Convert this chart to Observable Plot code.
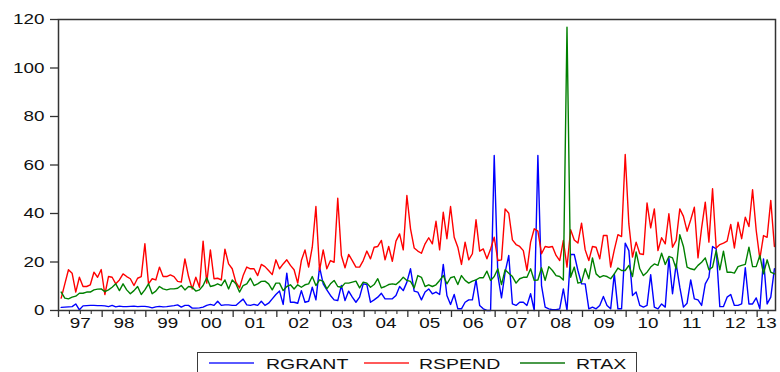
<!DOCTYPE html>
<html>
<head>
<meta charset="utf-8">
<script src="https://cdn.jsdelivr.net/npm/d3@7"></script>
<script src="https://cdn.jsdelivr.net/npm/@observablehq/plot@0.6"></script>
<style>
  html, body { margin: 0; padding: 0; background: #fff; }
  #chart { position: relative; width: 780px; height: 372px; overflow: hidden; }
  #chart svg { display: block; }
  #legend { position: absolute; left: 197px; top: 352px; width: 440px; height: 32px;
            border: 1.5px solid #3a3a3a; box-sizing: border-box; background: #fff; }
  #legend .sw { position: absolute; top: 9px; width: 45px; height: 1.5px; }
  #legend .lt { position: absolute; top: 2px; font-family: "Liberation Sans", Arial, sans-serif;
                font-size: 15px; color: #111; transform: scaleX(1.3); transform-origin: 0 50%;
                white-space: nowrap; line-height: 17px; }
</style>
</head>
<body>
<div id="chart"></div>
<script>
// ---- data (monthly, 1997M01 .. 2013M05) ----
const seriesNames = ["RGRANT", "RSPEND", "RTAX"];
const seriesColors = ["#0000ff", "#ff0000", "#008000"];
const legendColors = ["#5a5aff", "#ff5a5a", "#4a9a4a"];

const RGRANT = [
  1.3, 1.4, 1.5, 1.6, 2.7, 0.3, 1.9, 2.0, 2.1, 2.1,
  2.0, 2.0, 1.9, 1.6, 2.1, 1.5, 1.8, 1.6, 1.6, 1.7,
  1.8, 1.6, 1.7, 1.7, 1.5, 1.1, 1.5, 1.7, 1.5, 1.6,
  1.8, 2.0, 2.3, 1.4, 2.1, 2.1, 1.0, 1.0, 1.1, 1.4,
  2.1, 2.5, 2.1, 3.8, 2.1, 2.3, 2.3, 2.1, 2.1, 3.4,
  4.7, 2.3, 2.1, 2.5, 2.1, 3.8, 2.1, 3.0, 4.8, 6.6,
  8.0, 2.5, 15.4, 3.4, 3.4, 3.0, 8.2, 3.4, 3.8, 9.6,
  4.4, 17.9, 11.0, 8.5, 6.2, 4.4, 4.1, 10.3, 4.1, 8.0,
  5.5, 3.4, 5.5, 11.0, 10.7, 3.4, 4.4, 5.5, 7.1, 4.8,
  4.8, 4.8, 6.2, 9.9, 8.2, 11.7, 17.2, 8.0, 7.6, 4.4,
  7.6, 8.9, 6.9, 7.6, 6.6, 19.0, 6.2, 2.5, 6.6, 0.7,
  0.7, 3.4, 4.4, 4.4, 12.6, 2.1, 0.7, 0.0, 0.0, 63.9,
  14.4, 5.2, 15.8, 22.7, 2.7, 2.1, 3.4, 3.4, 2.1, 6.9,
  0.0, 63.9, 10.3, 1.4, 0.7, 0.3, 0.3, 0.7, 8.9, 0.0,
  23.1, 23.1, 16.5, 11.0, 11.0, 0.7, 1.4, 0.7, 2.1, 5.8,
  2.1, 0.7, 15.1, 0.7, 0.7, 27.8, 24.7, 6.2, 7.6, 2.1,
  1.4, 2.1, 14.8, 1.4, 0.7, 2.7, 1.4, 21.7, 6.9, 19.2,
  9.6, 1.4, 3.0, 12.6, 4.8, 4.4, 2.1, 11.0, 13.7, 26.4,
  25.4, 1.6, 1.6, 5.5, 6.6, 2.1, 2.1, 2.7, 17.6, 2.7,
  2.7, 5.2, 0.7, 21.3, 2.7, 5.5, 17.2
];

const RSPEND = [
  5.1, 11.0, 16.8, 15.4, 7.6, 13.7, 9.9, 9.9, 10.6, 15.8,
  13.7, 16.9, 6.6, 14.0, 13.7, 11.0, 12.6, 15.1, 14.0, 13.1,
  10.3, 13.3, 14.0, 27.5, 11.0, 13.1, 12.6, 17.9, 14.0, 14.0,
  14.7, 14.0, 12.0, 11.7, 21.3, 14.0, 8.9, 13.7, 9.6, 28.6,
  11.3, 25.0, 13.1, 13.3, 12.6, 25.3, 19.2, 17.2, 11.7, 9.3,
  14.4, 17.9, 17.2, 17.2, 14.4, 19.0, 18.1, 16.5, 14.8, 20.9,
  17.2, 19.2, 20.9, 18.6, 16.8, 11.3, 20.6, 25.0, 17.9, 26.1,
  42.9, 16.5, 25.0, 17.2, 20.6, 19.9, 46.3, 22.7, 17.6, 23.1,
  20.6, 17.9, 17.9, 20.6, 24.5, 21.3, 26.1, 26.4, 28.9, 20.9,
  26.4, 20.3, 28.6, 31.6, 25.0, 47.4, 33.7, 25.8, 24.5, 23.6,
  27.5, 30.0, 27.5, 36.8, 25.0, 40.5, 29.6, 42.9, 30.2, 26.1,
  19.0, 28.2, 20.9, 23.4, 37.4, 24.5, 25.4, 21.3, 25.4, 30.2,
  20.6, 20.9, 41.9, 40.1, 29.1, 27.2, 26.4, 24.7, 16.5, 28.2,
  33.7, 32.7, 23.4, 26.4, 26.1, 26.4, 22.7, 20.6, 28.9, 17.9,
  33.3, 29.1, 27.8, 36.0, 25.0, 20.6, 26.4, 26.1, 21.3, 30.9,
  30.9, 17.9, 25.0, 31.3, 30.5, 64.3, 35.7, 22.0, 28.2, 23.4,
  23.1, 44.3, 34.1, 41.9, 24.7, 30.0, 27.5, 39.9, 26.1, 28.9,
  41.9, 38.8, 32.7, 37.4, 42.6, 21.7, 34.1, 44.7, 28.2, 50.2,
  25.8, 27.2, 27.8, 28.6, 35.5, 25.8, 36.4, 29.6, 38.5, 34.6,
  49.8, 33.0, 21.3, 30.9, 30.2, 45.4, 26.4
];

const RTAX = [
  7.6, 5.1, 4.8, 5.5, 5.9, 7.1, 7.1, 7.6, 7.6, 8.5,
  8.8, 8.9, 7.8, 8.5, 9.6, 11.0, 8.2, 11.0, 8.5, 6.9,
  8.2, 9.9, 6.6, 8.5, 11.0, 6.9, 8.0, 9.9, 8.9, 8.5,
  8.9, 8.9, 9.2, 10.3, 8.5, 9.9, 9.6, 8.0, 8.5, 10.3,
  13.5, 9.9, 10.3, 11.0, 10.3, 12.6, 8.9, 12.6, 11.0, 7.6,
  10.3, 11.0, 13.3, 10.3, 11.0, 12.0, 12.1, 11.0, 8.5, 11.3,
  11.3, 8.2, 9.9, 10.6, 8.9, 10.6, 9.6, 10.6, 11.0, 14.0,
  10.3, 12.6, 12.0, 8.9, 11.0, 12.4, 9.9, 9.6, 11.3, 11.3,
  11.7, 12.1, 9.3, 11.7, 11.3, 9.6, 10.7, 13.1, 9.3, 9.9,
  10.7, 11.0, 10.7, 12.0, 13.7, 12.4, 12.0, 9.3, 14.4, 13.7,
  9.9, 10.6, 9.9, 10.6, 12.4, 14.4, 11.0, 13.5, 14.0, 10.7,
  14.4, 12.4, 11.3, 12.1, 12.6, 13.5, 13.5, 16.2, 12.4, 14.0,
  17.2, 10.7, 16.8, 15.4, 14.0, 11.3, 13.1, 13.7, 13.7, 17.2,
  12.4, 12.6, 17.6, 12.4, 18.1, 16.5, 14.4, 14.0, 12.6, 116.8,
  13.7, 17.9, 11.3, 11.7, 17.2, 13.1, 21.7, 15.1, 13.7, 14.4,
  14.0, 13.1, 15.1, 17.5, 16.5, 16.5, 18.6, 14.0, 24.1, 17.2,
  14.4, 15.8, 17.9, 19.2, 18.6, 23.6, 19.0, 22.3, 21.7, 17.2,
  31.3, 26.4, 17.9, 17.2, 16.8, 18.6, 19.9, 21.7, 16.8, 17.9,
  24.7, 16.8, 24.5, 15.8, 15.8, 15.4, 18.1, 18.6, 19.0, 26.1,
  18.1, 18.1, 22.7, 15.1, 20.9, 15.8, 15.1
];

const yearLabels = ["97","98","99","00","01","02","03","04","05","06","07","08","09","10","11","12","13"];
const yTicks = [0, 20, 40, 60, 80, 100, 120];
const yDomain = [0, 120];
const firstObsOffset = 0.74;   // months between the Jan-1997 tick and the first plotted observation
const xMax = 197.04;           // right frame edge, in months from Jan 1997

// ---- layout ----
const W = 780, H = 345;
const mL = 58, mR = 5, mT = 19, mB = H - 310;
const pxPerMonth = (W - mL - mR) / xMax;
const pxPerUnit = (H - mT - mB) / (yDomain[1] - yDomain[0]);

// ---- build tables ----
const allSeries = [RGRANT, RSPEND, RTAX];
const rows = [];
allSeries.forEach((arr, s) => arr.forEach((v, k) => rows.push({series: seriesNames[s], t: k + firstObsOffset, v})));

const majorTicks = yearLabels.map((_, i) => i * 12);
const minorTicks = [];
yearLabels.forEach((_, i) => [3, 6, 9].forEach(m => { const t = i * 12 + m; if (t < xMax) minorTicks.push(t); }));
const labelPos = yearLabels.map((lab, i) => ({lab, t: (i * 12 + Math.min(i * 12 + 12, xMax)) / 2}));

const textFont = "Liberation Sans, Arial, sans-serif";

const plot = Plot.plot({
  width: W, height: H,
  marginLeft: mL, marginRight: mR, marginTop: mT, marginBottom: mB,
  style: {background: "#fff", fontFamily: textFont},
  x: {domain: [0, xMax], axis: null},
  y: {domain: yDomain, axis: null},
  color: {domain: seriesNames, range: seriesColors},
  marks: [
    // x ticks
    Plot.ruleX(majorTicks, {x: d => d, y1: 0, y2: -7 / pxPerUnit, stroke: "#333", strokeWidth: 1.3}),
    Plot.ruleX(minorTicks, {x: d => d, y1: 0, y2: -4 / pxPerUnit, stroke: "#333", strokeWidth: 1.1}),
    // y ticks
    Plot.ruleY(yTicks, {y: d => d, x1: 0, x2: -8 / pxPerMonth, stroke: "#333", strokeWidth: 1.3}),
    // series
    ...seriesNames.map((name, s) =>
      Plot.line(rows.filter(r => r.series === name), {x: "t", y: "v", stroke: seriesColors[s], strokeWidth: 1.4})),
    Plot.frame({stroke: "#333", strokeWidth: 1.5}),
    // tick labels
    Plot.text(yTicks, {frameAnchor: "left", y: d => d, text: d => String(d), textAnchor: "end", dx: -14,
                       fontSize: 14.5, fill: "#111", fontFamily: textFont}),
    Plot.text(labelPos, {frameAnchor: "bottom", x: "t", text: "lab", dy: 17,
                         fontSize: 14.5, fill: "#111", fontFamily: textFont})
  ]
});

const chart = document.getElementById("chart");
chart.appendChild(plot);

// widen the tick label glyphs like the original (horizontally stretched Arial):
// scale each label about its own anchor point
plot.querySelectorAll("text").forEach(t => {
  const ax = parseFloat(t.getAttribute("x")) || 0;
  const ay = parseFloat(t.getAttribute("y")) || 0;
  const base = t.getAttribute("transform") || "";
  t.setAttribute("transform", `${base} translate(${ax},${ay}) scale(1.3,1) translate(${-ax},${-ay})`);
});

// legend below the plot
const legend = document.createElement("div");
legend.id = "legend";
const legendPos = [[11, 68], [166, 221], [322, 378]];
seriesNames.forEach((name, s) => {
  const sw = document.createElement("span");
  sw.className = "sw";
  sw.style.left = legendPos[s][0] + "px";
  sw.style.background = legendColors[s];
  legend.appendChild(sw);
  const lt = document.createElement("span");
  lt.className = "lt";
  lt.style.left = legendPos[s][1] + "px";
  lt.textContent = name;
  legend.appendChild(lt);
});
chart.appendChild(legend);
</script>
</body>
</html>
